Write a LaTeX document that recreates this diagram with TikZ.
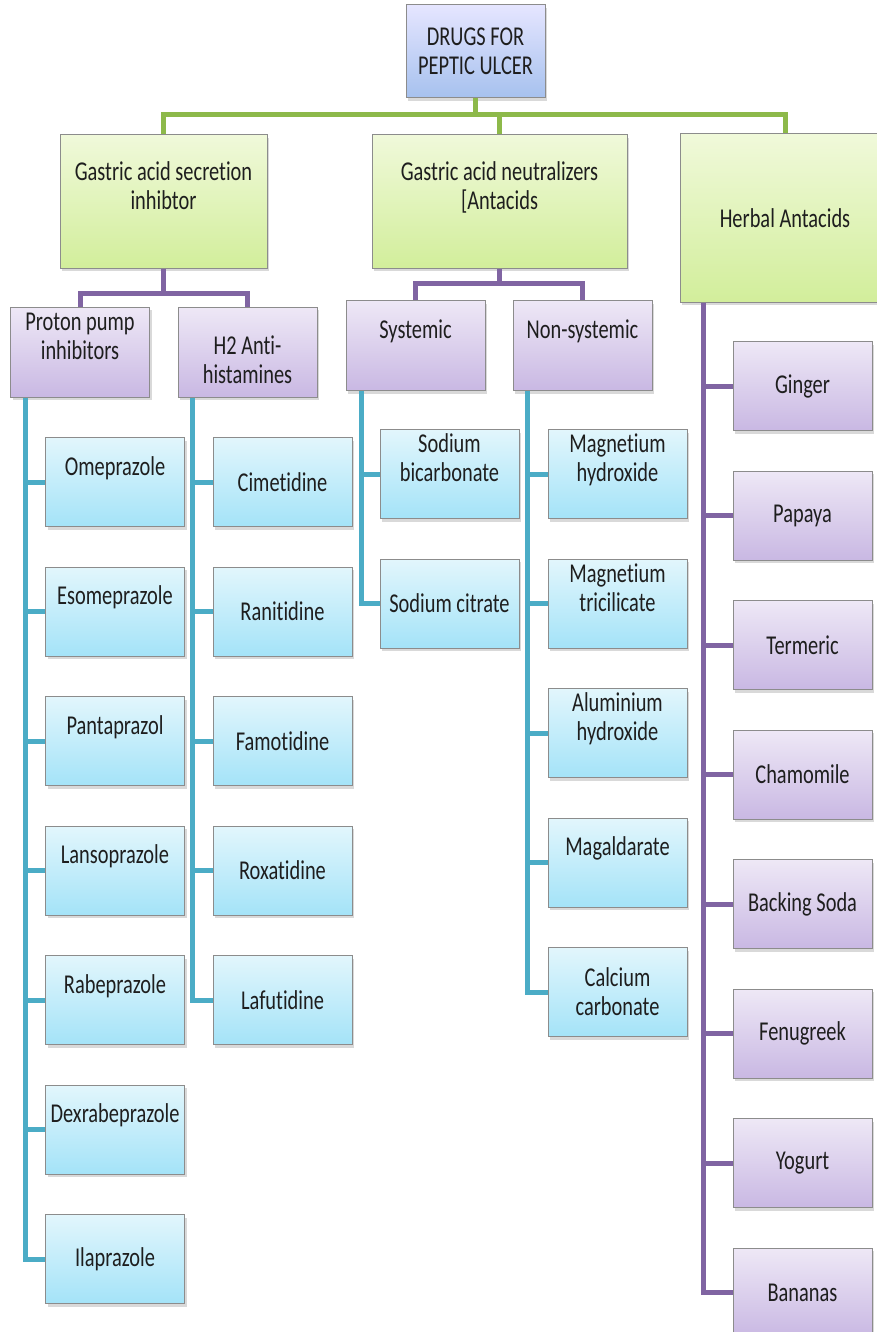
\documentclass[tikz,border=0pt]{standalone}
\usepackage{fontspec}
\setmainfont{Carlito}[FakeStretch=0.75, RawFeature={-liga;-calt;-dlig;-clig}]
\usetikzlibrary{positioning,shadows}

\definecolor{greenline}{HTML}{8DB94A}
\definecolor{purpleline}{HTML}{8064A2}
\definecolor{tealline}{HTML}{4BACC6}
\definecolor{boxedge}{HTML}{8C8C8C}
\definecolor{inktext}{HTML}{1E1E1E}

\begin{document}
\begin{tikzpicture}[x = 0.5pt, y = -0.5pt,
  box/.style = {draw = boxedge, line width = 0.5pt, align = center, inner sep = 1pt, text = inktext,
    font = \fontsize{13.6}{14.5}\selectfont,
    drop shadow = {opacity = 0.3, shadow xshift = 1.2pt, shadow yshift = -1.5pt}},
  rootbox/.style = {box, top color = blue!10, bottom color = {rgb,255:red,166;green,193;blue,238},
    minimum width = 69.5pt, minimum height = 46.5pt},
  groupbox/.style = {box, top color = {rgb,255:red,240;green,249;blue,218}, bottom color = {rgb,255:red,210;green,238;blue,155},
    minimum height = 66.5pt},
  classbox/.style = {box, top color = {rgb,255:red,238;green,232;blue,246}, bottom color = {rgb,255:red,201;green,184;blue,227},
    minimum width = 69.5pt, minimum height = 45pt},
  drugbox/.style = {box, top color = {rgb,255:red,226;green,246;blue,252}, bottom color = {rgb,255:red,164;green,227;blue,248},
    minimum width = 69.5pt, minimum height = 44.5pt},
  herbbox/.style = {classbox, minimum height = 44.5pt},
  lifted/.style = {text depth = 16pt},
  gline/.style = {draw = greenline, line width = 2.5pt},
  pline/.style = {draw = purpleline, line width = 2.5pt},
  tline/.style = {draw = tealline, line width = 2.5pt},
  node distance = 19.75pt]
\useasboundingbox (0,0) rectangle (877,1332);

% top levels
\node[rootbox] (root) at (475.5,51.5) {DRUGS FOR\\PEPTIC ULCER};
\node[groupbox, lifted, minimum width = 103.5pt] (secr) at (163.5,201.5) {Gastric acid secretion\\inhibtor};
\node[groupbox, lifted, minimum width = 127.5pt] (neut) at (499.5,201.5) {Gastric acid neutralizers\\{[}Antacids};
\node[groupbox, minimum width = 105pt, minimum height = 84pt] (herb) at (785,218) {Herbal Antacids};

\node[classbox, lifted] (ppi)  at (80,352)      {Proton pump\\inhibitors};
\node[classbox]         (htwo) at (247.5,352)   {\rule{0pt}{17.5pt}H2 Anti-\\histamines};
\node[classbox, lifted] (sys)  at (415.5,345.5) {Systemic};
\node[classbox, lifted] (nsys) at (582.5,345.5) {Non-systemic};

% proton pump inhibitors
\node[drugbox, lifted] (ome) at (115,482) {Omeprazole};
\node[drugbox, lifted, below = of ome] (eso) {Esomeprazole};
\node[drugbox, lifted, below = of eso] (pan) {Pantaprazol};
\node[drugbox, lifted, below = of pan] (lan) {Lansoprazole};
\node[drugbox, lifted, below = of lan] (rab) {Rabeprazole};
\node[drugbox, lifted, below = of rab] (dex) {Dexrabeprazole};
\node[drugbox, below = of dex] (ila) {Ilaprazole};

% H2 blockers
\node[drugbox] (cim) at (282.5,482) {Cimetidine};
\node[drugbox, below = of cim] (ran) {Ranitidine};
\node[drugbox, below = of ran] (fam) {Famotidine};
\node[drugbox, below = of fam] (rox) {Roxatidine};
\node[drugbox, below = of rox] (laf) {Lafutidine};

% systemic
\node[drugbox, lifted] (sbic) at (449.5,474) {Sodium\\bicarbonate};
\node[drugbox, below = of sbic] (scit) {Sodium citrate};

% non-systemic
\node[drugbox, lifted] (mhyd) at (617.5,474) {Magnetium\\hydroxide};
\node[drugbox, lifted, below = of mhyd] (mtri) {Magnetium\\tricilicate};
\node[drugbox, lifted, below = of mtri] (alu) {Aluminium\\hydroxide};
\node[drugbox, lifted, below = of alu] (mag) {Magaldarate};
\node[drugbox, below = of mag] (calc) {Calcium\\carbonate};

% herbal
\node[herbbox] (gin) at (802.5,386) {Ginger};
\node[herbbox, below = of gin] (pap) {Papaya};
\node[herbbox, below = of pap] (ter) {Termeric};
\node[herbbox, below = of ter] (cham) {Chamomile};
\node[herbbox, below = of cham] (soda) {Backing Soda};
\node[herbbox, below = of soda] (fenu) {Fenugreek};
\node[herbbox, below = of fenu] (yog) {Yogurt};
\node[herbbox, below = of yog] (ban) {Bananas};

% connectors
\coordinate (gbus) at (0,115);
\coordinate (pbusa) at (0,293);
\coordinate (pbusb) at (0,283);
\coordinate (ppitrunk) at (25,0);
\coordinate (htwotrunk) at (192,0);
\coordinate (systrunk) at (361,0);
\coordinate (nsystrunk) at (527,0);
\coordinate (herbtrunk) at (703,0);

\draw[gline] (root.south) -- (root.south |- gbus);
\draw[gline] (secr.north) |- (gbus -| root.south) -| (herb.north);
\draw[gline] (neut.north) -- (neut.north |- gbus);

\draw[pline] (secr.south) -- (secr.south |- pbusa);
\draw[pline] (ppi.north) |- (pbusa -| secr.south) -| (htwo.north);
\draw[pline] (neut.south) -- (neut.south |- pbusb);
\draw[pline] (sys.north) |- (pbusb -| neut.south) -| (nsys.north);

\draw[tline] (ppitrunk |- ppi.south) |- (ila.west)
  (ppitrunk |- ome) -- (ome.west) (ppitrunk |- eso) -- (eso.west)
  (ppitrunk |- pan) -- (pan.west) (ppitrunk |- lan) -- (lan.west)
  (ppitrunk |- rab) -- (rab.west) (ppitrunk |- dex) -- (dex.west);
\draw[tline] (htwotrunk |- htwo.south) |- (laf.west)
  (htwotrunk |- cim) -- (cim.west) (htwotrunk |- ran) -- (ran.west)
  (htwotrunk |- fam) -- (fam.west) (htwotrunk |- rox) -- (rox.west);
\draw[tline] (systrunk |- sys.south) |- (scit.west)
  (systrunk |- sbic) -- (sbic.west);
\draw[tline] (nsystrunk |- nsys.south) |- (calc.west)
  (nsystrunk |- mhyd) -- (mhyd.west) (nsystrunk |- mtri) -- (mtri.west)
  (nsystrunk |- alu) -- (alu.west) (nsystrunk |- mag) -- (mag.west);
\draw[pline] (herbtrunk |- herb.south) |- (ban.west)
  (herbtrunk |- gin) -- (gin.west) (herbtrunk |- pap) -- (pap.west)
  (herbtrunk |- ter) -- (ter.west) (herbtrunk |- cham) -- (cham.west)
  (herbtrunk |- soda) -- (soda.west) (herbtrunk |- fenu) -- (fenu.west)
  (herbtrunk |- yog) -- (yog.west);
\end{tikzpicture}
\end{document}
